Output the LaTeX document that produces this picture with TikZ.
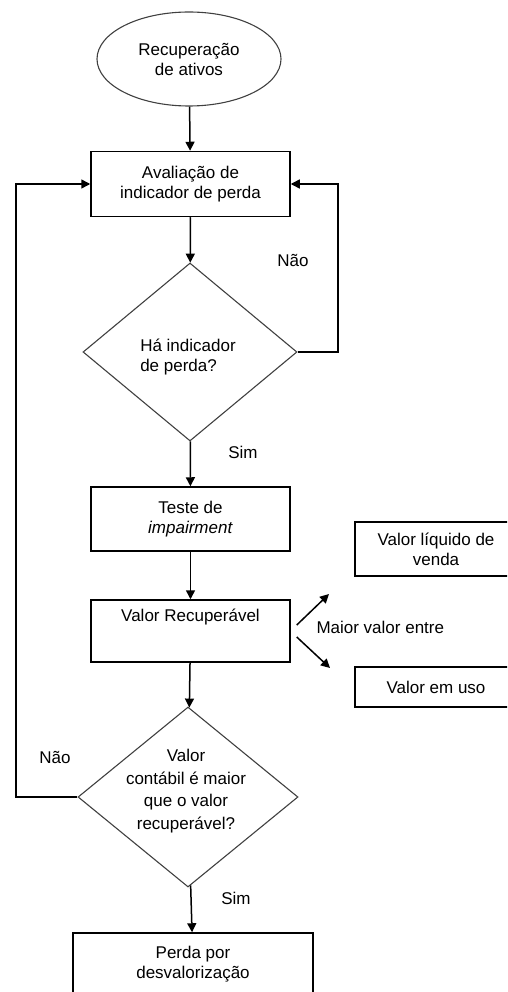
\documentclass[tikz,border=0pt]{standalone}
\usepackage{fontspec}
\setmainfont{Liberation Sans}
\usetikzlibrary{shapes.geometric,arrows.meta,calc}
\begin{document}
\begin{tikzpicture}[x=1pt,y=-1pt,
  txt/.style={font=\fontsize{17}{20}\selectfont, align=center},
  box/.style={txt, draw, line width=1.5pt, rectangle, inner sep=0pt},
  dec/.style={txt, draw=black!75, line width=1.1pt, diamond, inner sep=0pt},
  term/.style={txt, draw=black!75, line width=1.1pt, ellipse, inner sep=0pt},
  conn/.style={line width=1.5pt, -{Triangle[length=9pt,width=9pt]}},
  lbl/.style={txt}]
\clip (0,0) rectangle (507,992);
\node[term, minimum width=184pt, minimum height=94pt] (start) at (189,59) {Recuperação\\de ativos};
\node[box, minimum width=199pt, minimum height=65pt] (aval) at (190.5,184) {Avaliação de\\indicador de perda};
\node[dec, minimum width=214pt, minimum height=178pt] (d1) at (190,352) {};
\node[txt, align=left] (d1t) at (188,357) {Há indicador\\de perda?};
\node[box, minimum width=199pt, minimum height=64pt] (teste) at (190.5,519) {Teste de\\\textit{impairment}};
\node[box, minimum width=199pt, minimum height=62pt] (valrec) at (190.5,631) {Valor Recuperável\\[6pt]\strut};
\node[box, minimum width=162pt, minimum height=54pt] (liq) at (436,549) {Valor líquido de\\venda};
\node[box, minimum width=162pt, minimum height=40pt] (uso) at (436,687) {Valor em uso};
\node[dec, minimum width=220pt, minimum height=180pt] (d2) at (188,797) {};
\node[txt, font=\fontsize{17}{22.5}\selectfont] (d2t) at (186,791) {Valor\\contábil é maior\\que o valor\\recuperável?};
\node[box, minimum width=240pt, minimum height=62pt] (perda) at (193,964) {Perda por\\desvalorização};

\node[lbl] (nao1) at (293,260) {Não};
\node[lbl] (sim1) at (243,452) {Sim};
\node[lbl, anchor=west] (maior) at (313,627) {Maior valor entre};
\node[lbl] (nao2) at (55,757) {Não};
\node[lbl] (sim2) at (236,898) {Sim};

\coordinate (r1) at (338,352);
\coordinate (l1) at (16,184);
\coordinate (a1) at (329,594);
\coordinate (a2) at (330,668);

\draw[conn] (start) -- (aval);
\draw[conn] (aval) -- (d1);
\draw[conn] (d1.east) -| (r1 |- aval.east) -- (aval.east);
\draw[conn] (d1) -- (teste);
\draw[conn] (teste) -- (valrec);
\draw[conn] ($(valrec.east)+(6,-6)$) -- (a1);
\draw[conn] ($(valrec.east)+(6,6)$) -- (a2);
\draw[conn] (valrec) -- (d2);
\draw[conn] (d2.west) -| (l1) -- (aval.west);
\draw[conn] (d2) -- (perda);
\end{tikzpicture}
\end{document}
